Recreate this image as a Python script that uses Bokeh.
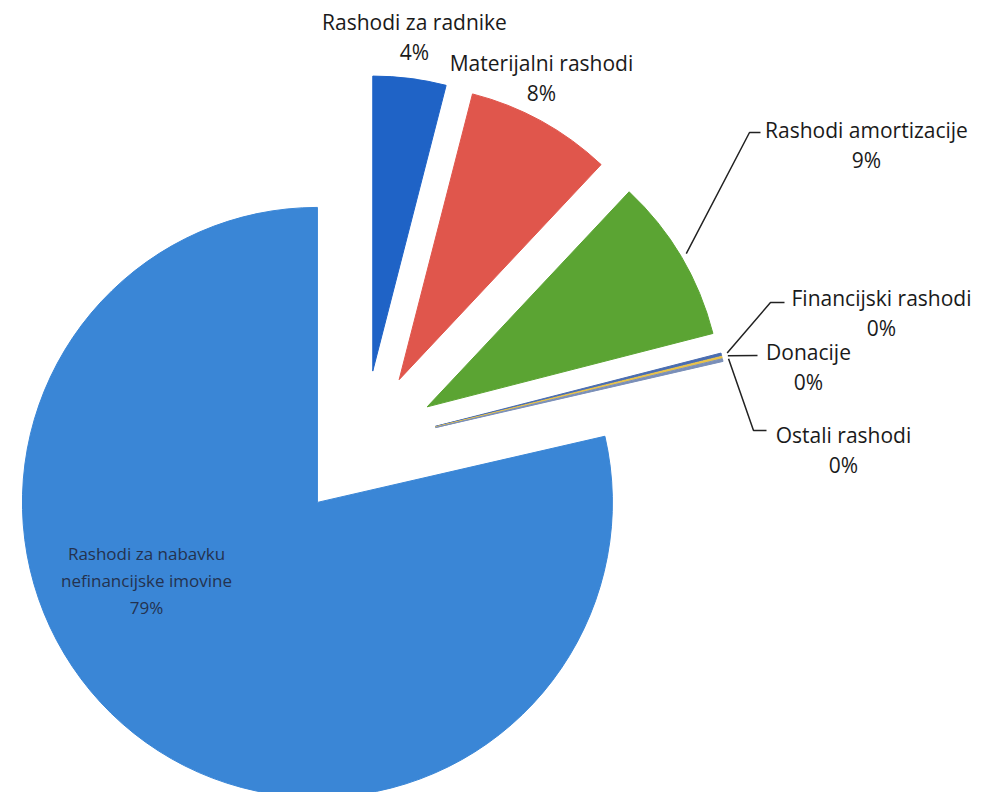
import math
from bokeh.plotting import figure
from bokeh.models import Range1d, ColumnDataSource
from bokeh.core.properties import value
from bokeh.embed import file_html
from bokeh.resources import INLINE

# ---- data (percent shares) ----
categories = ["Rashodi za radnike", "Materijalni rashodi", "Rashodi amortizacije",
              "Financijski rashodi", "Donacije", "Ostali rashodi",
              "Rashodi za nabavku nefinancijske imovine"]
shares = [4.0, 8.0, 9.0, 0.15, 0.1, 0.15, 78.6]
pct_labels = ["4%", "8%", "9%", "0%", "0%", "0%", "79%"]

# ---- styles / layout ----
colors = ["#1f63c6", "#e0564c", "#5ba433", "#4a6db0", "#e8c24a", "#7a8fb8", "#3a86d6"]
FONT = "Open Sans"
CX, CY = 363, 800 - 444      # pie centre (data coords, y up)
R = 295
EXPLODE = 74

def Y(py):
    return 800 - py

p = figure(width=984, height=792, x_range=Range1d(0, 984), y_range=Range1d(8, 800),
           output_backend="svg", toolbar_location=None, min_border=0,
           x_axis_location=None, y_axis_location=None)
p.grid.visible = False
p.outline_line_color = None
p.background_fill_color = "white"

total = sum(shares)
t = 0.0
xs, ys, sa, ea, mids, apexes = [], [], [], [], [], []
for s in shares:
    t1 = t
    t2 = t + s / total * 360.0
    t = t2
    mid = math.radians((t1 + t2) / 2)
    ax = CX + EXPLODE * math.sin(mid)
    ay = CY + EXPLODE * math.cos(mid)
    xs.append(ax); ys.append(ay)
    sa.append(math.radians(90 - t2)); ea.append(math.radians(90 - t1))
    mids.append(mid); apexes.append((ax, ay))

src = ColumnDataSource(dict(x=xs, y=ys, start=sa, end=ea, color=colors))
p.wedge(x="x", y="y", radius=R, start_angle="start", end_angle="end",
        direction="anticlock", fill_color="color", line_color="color",
        line_width=1, source=src)

def arc_pt(i, extra=0):
    ax, ay = apexes[i]
    return ax + (R + extra) * math.sin(mids[i]), ay + (R + extra) * math.cos(mids[i])

# leader lines (elbow / end positions are layout, start from slice arcs)
leaders = {
    2: [(749, 132), (760, 132)],
    3: [(770, 302), (784, 302)],
    4: [(757, 355)],
    5: [(753, 430), (766, 430)],
}
for i, pts in leaders.items():
    sx, sy = arc_pt(i, 6)
    lx = [sx] + [q[0] for q in pts]
    ly = [sy] + [Y(q[1]) for q in pts]
    p.line(lx, ly, line_color="#222222", line_width=1.5)

# label positions (screen coords of the name line centre)
label_pos = {
    0: (414, 21),
    1: (541, 62),
    2: (866, 129),
    3: (881, 297),
    4: (808, 351),
    5: (843, 434),
}
nx, ny, nt, px_, py_, pt = [], [], [], [], [], []
for i, (lx, ly) in label_pos.items():
    nx.append(lx); ny.append(Y(ly)); nt.append(categories[i])
    px_.append(lx); py_.append(Y(ly + 30)); pt.append(pct_labels[i])
p.text(x=nx, y=ny, text=nt, text_align="center", text_baseline="middle",
       text_font=value(FONT), text_font_size="21px", text_color="#1a1a1a")
p.text(x=px_, y=py_, text=pt, text_align="center", text_baseline="middle",
       text_font=value(FONT), text_font_size="21px", text_color="#1a1a1a")

# inner label of the big slice
big = len(categories) - 1
inner_lines = ["Rashodi za nabavku", "nefinancijske imovine", pct_labels[big]]
p.text(x=[146] * 3, y=[Y(553), Y(580), Y(607)], text=inner_lines,
       text_align="center", text_baseline="middle", text_font=value(FONT),
       text_font_size="17px", text_color="#24324f")

open("out.html", "w").write(file_html(p, INLINE))
